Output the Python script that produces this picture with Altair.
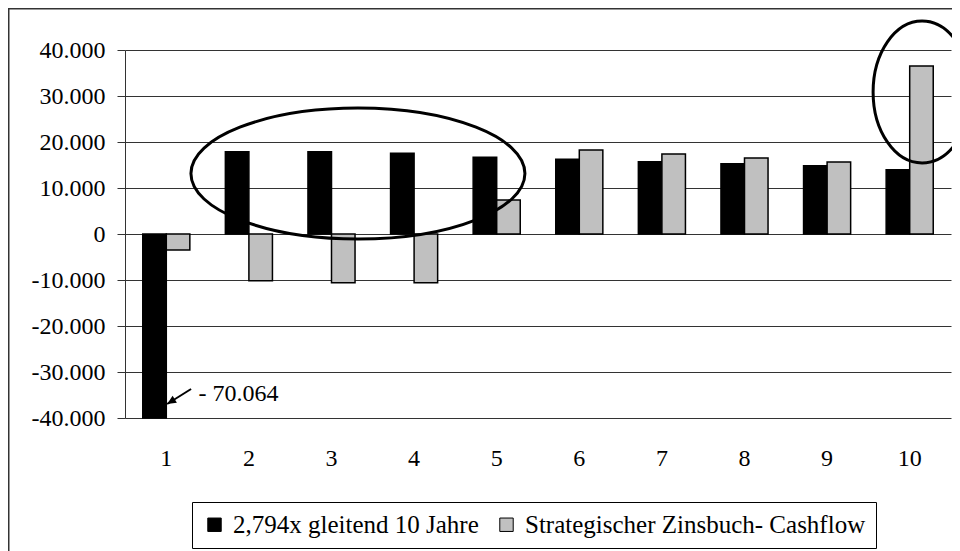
import altair as alt
import pandas as pd

# ---------------- data ----------------
jahre = [1, 2, 3, 4, 5, 6, 7, 8, 9, 10]
serie_namen = ["2,794x gleitend 10 Jahre", "Strategischer Zinsbuch- Cashflow"]
gleitend = [-70064, 17900, 17900, 17540, 16670, 16230, 15720, 15290, 14860, 13990]
cashflow = [-3480, -10150, -10580, -10580, 7390, 18260, 17390, 16520, 15650, 36520]
farben = ["#000000", "#c0c0c0"]
y_ticks = [-40000, -30000, -20000, -10000, 0, 10000, 20000, 30000, 40000]

# annotation (data units: x = category position, y = value)
pfeil_text = ["- 70.064"]
pfeil_von_x = [1.30]
pfeil_von_y = [-33700]
pfeil_bis_x = [1.01]
pfeil_bis_y = [-36960]
text_x = [1.39]
text_y = [-34800]
ellipse_x = [3.32, 10.15]
ellipse_y = [13150, 30870]

FONT = "'Liberation Serif', 'Times New Roman', Times, serif"

rows = []
for i, j in enumerate(jahre):
    rows.append({"Jahr": j, "Serie": serie_namen[0], "Wert": gleitend[i]})
    rows.append({"Jahr": j, "Serie": serie_namen[1], "Wert": cashflow[i]})
df = pd.DataFrame(rows)

y_scale = alt.Scale(domain=[-40000, 40000], nice=False, clamp=True)
xq = alt.Scale(domain=[0.5, 10.5], nice=False, zero=False)

rahmen = alt.Chart(pd.DataFrame({"r": [0]})).mark_rect(
    fillOpacity=0, stroke="#333333", strokeWidth=1.5
).encode(
    x=alt.value(-116.25), x2=alt.value(1200),
    y=alt.value(-41.25), y2=alt.value(1000),
)

bars = alt.Chart(df).mark_bar(stroke="black", strokeWidth=1.5).encode(
    x=alt.X(
        "Jahr:N", sort=jahre,
        scale=alt.Scale(paddingInner=0.43, paddingOuter=0.215),
        axis=alt.Axis(title=None, labelAngle=0, domain=False, ticks=False,
                      labelFont=FONT, labelFontSize=24, labelPadding=28, grid=False),
    ),
    xOffset=alt.XOffset("Serie:N", sort=serie_namen,
                        scale=alt.Scale(paddingInner=0, paddingOuter=0)),
    y=alt.Y(
        "Wert:Q", scale=y_scale,
        axis=alt.Axis(
            title=None, values=y_ticks, labelFont=FONT, labelFontSize=24, labelPadding=12,
            tickSize=8, tickColor="#333333", domainColor="#333333",
            gridColor="#333333", grid=True,
            labelExpr="(datum.value < 0 ? '-' : '') + replace(format(abs(datum.value), ','), ',', '.')",
        ),
    ),
    color=alt.Color(
        "Serie:N", sort=serie_namen,
        scale=alt.Scale(domain=serie_namen, range=farben),
        legend=alt.Legend(
            orient="none", legendX=67, legendY=452, direction="horizontal",
            title=None, strokeColor="black", fillColor="white", padding=10,
            labelFont=FONT, labelFontSize=25, labelColor="black", labelLimit=0,
            symbolType="square", symbolSize=180, symbolStrokeColor="black",
            symbolStrokeWidth=1, labelOffset=6, columnPadding=15,
        ),
    ),
)

ell1 = alt.Chart(pd.DataFrame({"x": [ellipse_x[0]], "y": [ellipse_y[0]]})).mark_point(
    shape="M -1 0 A 1 0.392 0 1 1 1 0 A 1 0.392 0 1 1 -1 0 Z",
    size=111556, filled=False, stroke="black", strokeWidth=3, opacity=1,
).encode(
    x=alt.X("x:Q", scale=xq, axis=None),
    y=alt.Y("y:Q", scale=y_scale, title=None),
)

ell2 = alt.Chart(pd.DataFrame({"x": [ellipse_x[1]], "y": [ellipse_y[1]]})).mark_point(
    shape="M 0 -1 A 0.69 1 0 1 1 0 1 A 0.69 1 0 1 1 0 -1 Z",
    size=20164, filled=False, stroke="black", strokeWidth=3, opacity=1,
).encode(
    x=alt.X("x:Q", scale=xq, axis=None),
    y=alt.Y("y:Q", scale=y_scale, title=None),
)

pfeil_df = pd.DataFrame({"x": pfeil_von_x, "y": pfeil_von_y,
                         "x2": pfeil_bis_x, "y2": pfeil_bis_y})
pfeil = alt.Chart(pfeil_df).mark_rule(stroke="black", strokeWidth=2).encode(
    x=alt.X("x:Q", scale=xq, axis=None),
    y=alt.Y("y:Q", scale=y_scale, title=None),
    x2="x2:Q", y2="y2:Q",
)

spitze = alt.Chart(pd.DataFrame({"x": pfeil_bis_x, "y": pfeil_bis_y})).mark_point(
    shape="M 0 0 L 0.45 1 L -0.45 1 Z", size=324, filled=True,
    fill="black", strokeWidth=0, angle=238, opacity=1,
).encode(
    x=alt.X("x:Q", scale=xq, axis=None),
    y=alt.Y("y:Q", scale=y_scale, title=None),
)

text = alt.Chart(pd.DataFrame({"x": text_x, "y": text_y, "t": pfeil_text})).mark_text(
    align="left", baseline="middle", font=FONT, fontSize=24, color="black",
).encode(
    x=alt.X("x:Q", scale=xq, axis=None),
    y=alt.Y("y:Q", scale=y_scale, title=None),
    text="t:N",
)

chart = alt.layer(rahmen, bars, ell1, ell2, pfeil, spitze, text).resolve_scale(
    x="independent"
).properties(
    width=826, height=368,
    autosize=alt.AutoSizeParams(type="none"),
    padding={"left": 117, "top": 42, "right": 1, "bottom": 133},
    background="white",
).configure_view(stroke=None).configure_axis(
    labelFont=FONT, labelColor="black"
).configure_legend(labelFont=FONT).configure_text(font=FONT)

chart.save("out.html", embed_options={"renderer": "svg", "actions": False})
